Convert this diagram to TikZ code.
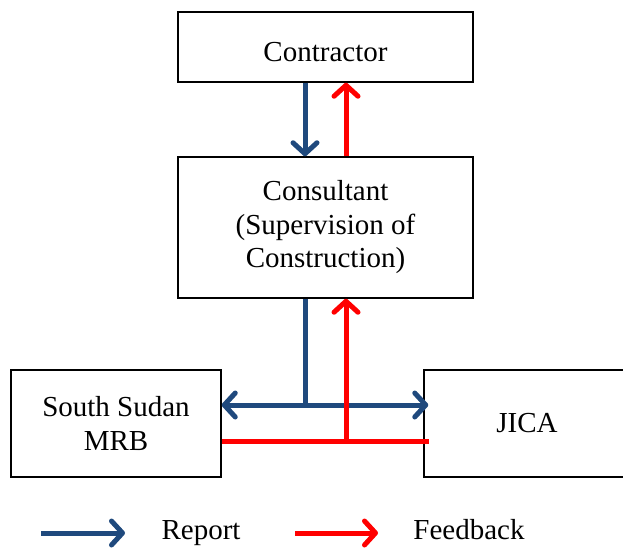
\documentclass[tikz,border=0pt]{standalone}
\usepackage{fontspec}
\setmainfont{Liberation Serif}
\usepackage{tikz}
\usetikzlibrary{arrows.meta, positioning, calc}
\definecolor{reportblue}{RGB}{31,73,125}
\definecolor{feedbackred}{RGB}{255,0,0}

\begin{document}
\begin{tikzpicture}[
          x=1pt, y=-1pt,
          box/.style={rectangle, draw, line width=1.5pt, align=center,
                      inner sep=0pt, font=\fontsize{29}{33.5}\selectfont},
          legendtext/.style={anchor=base, inner sep=0pt, font=\fontsize{29}{33.5}\selectfont},
          report/.style={draw=reportblue, line width=5pt},
          feedback/.style={draw=feedbackred, line width=5pt},
          >={Straight Barb[length=11pt, width=24pt, round]}
        ]
        \useasboundingbox (0,0) rectangle (623,548);
        \clip (0,0) rectangle (623,548);
        % boxes
        \node [box, minimum width=295pt, minimum height=70pt, text height=30pt, text depth=0pt]
          (contractor) at (325.5,47) {Contractor};
        \node [box, minimum width=295pt, minimum height=141pt] (consultant) at (325.5,227.5)
          {Consultant\\(Supervision of\\Construction)};
        \node [box, minimum width=210pt, minimum height=107pt] (mrb) at (116,423.5) {South Sudan\\MRB};
        \node [box, minimum width=206pt, minimum height=107pt] (jica) at (527,423.5) {JICA};
        % contractor <-> consultant
        \draw [report, ->] ([xshift=-20.5pt]contractor.south) -- ([xshift=-20.5pt]consultant.north);
        \draw [feedback, ->] ([xshift=20.5pt]consultant.north) -- ([xshift=20.5pt]contractor.south);
        % consultant <-> mrb, jica
        \coordinate (split) at (305,405);
        \coordinate (join) at (346,441.5);
        \draw [report] ([xshift=-20.5pt]consultant.south) -- (split);
        \draw [report, <->] (mrb.east |- split) -- ([xshift=5pt]jica.west |- split);
        \draw [feedback] (mrb.east |- join) -- ([xshift=6pt]jica.west |- join);
        \draw [feedback, ->] (join) -- ([xshift=20.5pt]consultant.south);
        % legend
        \node [legendtext] (reportlabel) at (201,539) {Report};
        \node [legendtext] (feedbacklabel) at (469,539) {Feedback};
        \coordinate (reportstart) at (41,533);
        \coordinate (feedbackstart) at (295,533);
        \draw [report, ->] (reportstart) -- ++(84,0);
        \draw [feedback, ->] (feedbackstart) -- ++(83,0);
\end{tikzpicture}
\end{document}
